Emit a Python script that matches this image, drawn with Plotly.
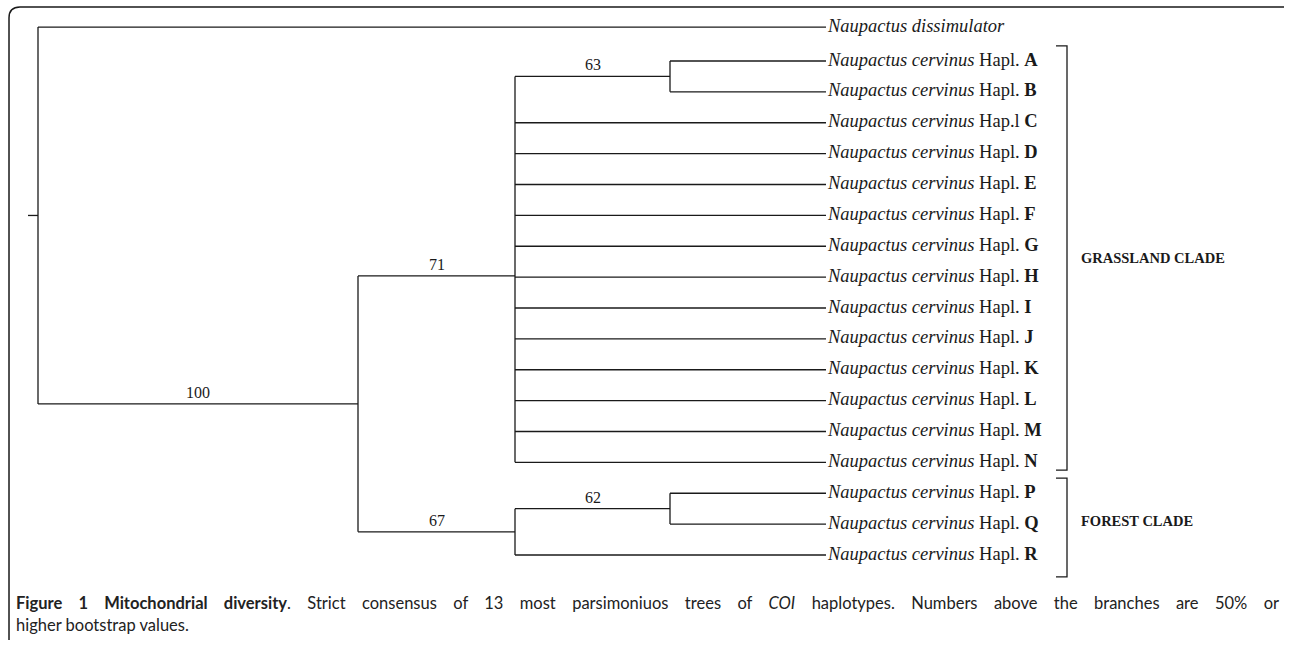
import plotly.graph_objects as go

# ── data ─────────────────────────────────────────────────────────────────────
tip_labels = [
    "<i>Naupactus dissimulator</i>",
    "<i>Naupactus cervinus</i> Hapl. <b>A</b>",
    "<i>Naupactus cervinus</i> Hapl. <b>B</b>",
    "<i>Naupactus cervinus</i> Hap.l <b>C</b>",
    "<i>Naupactus cervinus</i> Hapl. <b>D</b>",
    "<i>Naupactus cervinus</i> Hapl. <b>E</b>",
    "<i>Naupactus cervinus</i> Hapl. <b>F</b>",
    "<i>Naupactus cervinus</i> Hapl. <b>G</b>",
    "<i>Naupactus cervinus</i> Hapl. <b>H</b>",
    "<i>Naupactus cervinus</i> Hapl. <b>I</b>",
    "<i>Naupactus cervinus</i> Hapl. <b>J</b>",
    "<i>Naupactus cervinus</i> Hapl. <b>K</b>",
    "<i>Naupactus cervinus</i> Hapl. <b>L</b>",
    "<i>Naupactus cervinus</i> Hapl. <b>M</b>",
    "<i>Naupactus cervinus</i> Hapl. <b>N</b>",
    "<i>Naupactus cervinus</i> Hapl. <b>P</b>",
    "<i>Naupactus cervinus</i> Hapl. <b>Q</b>",
    "<i>Naupactus cervinus</i> Hapl. <b>R</b>",
]
tip_rows = [-1.1, 0, 1, 2, 3, 4, 5, 6, 7, 8, 9, 10, 11, 12, 13, 14, 15, 16]
tip_depth = 788

# internal nodes: depth (cladogram x) and children (tip index or node name)
node_depth = {"root": 0, "n100": 320, "n71": 477, "n63": 632, "n67": 477, "n62": 632}
node_children = {
    "root": [0, "n100"],
    "n100": ["n71", "n67"],
    "n71": ["n63"] + list(range(3, 15)),
    "n63": [1, 2],
    "n67": ["n62", 17],
    "n62": [15, 16],
}
bootstrap = {"n100": "100", "n71": "71", "n63": "63", "n67": "67", "n62": "62"}

clade_names = ["GRASSLAND CLADE", "FOREST CLADE"]
clade_first = [1, 15]
clade_last = [14, 17]

caption_1 = ("<b>Figure 1 Mitochondrial diversity</b>. Strict consensus of 13 most parsimoniuos "
             "trees of <i>COI</i> haplotypes. Numbers above the branches are 50% or")
caption_2 = "higher bootstrap values."

# ── layout constants ─────────────────────────────────────────────────────────
W, H = 1290, 647
INK = "#1a1a1a"
SERIF = "Liberation Serif, Times New Roman, serif"
SANS = "Lato, Open Sans, sans-serif"
X0 = -38                      # root sits 38 px from the left edge
ROW_PX, ROW0_PX = 30.875, 61  # row spacing / pixel of row 0
CAP_LEFT, CAP_RIGHT = 14, 1277


# ── geometry from the tree ───────────────────────────────────────────────────
node_y = {}


def y_of(c):
    if isinstance(c, int):
        return tip_rows[c]
    if c not in node_y:
        ys = [y_of(k) for k in node_children[c]]
        node_y[c] = sum(ys) / len(ys)
    return node_y[c]


xs, ys = [], []
labels = []


def walk(name, parent_depth):
    d = node_depth[name]
    y = y_of(name)
    xs.extend([parent_depth, d, None])
    ys.extend([y, y, None])
    kids = node_children[name]
    kys = [y_of(k) for k in kids]
    xs.extend([d, d, None])
    ys.extend([min(kys + [y]), max(kys + [y]), None])
    if name in bootstrap:
        labels.append(((parent_depth + d) / 2, y, bootstrap[name]))
    for k in kids:
        if isinstance(k, int):
            xs.extend([d, tip_depth, None])
            ys.extend([tip_rows[k], tip_rows[k], None])
        else:
            walk(k, d)


walk("root", -10)

fig = go.Figure()
fig.add_trace(go.Scatter(
    x=xs, y=ys, mode="lines",
    line=dict(color=INK, width=1.3),
    hoverinfo="skip", showlegend=False,
))

# tip labels
fig.add_trace(go.Scatter(
    x=[tip_depth + 2] * len(tip_labels), y=tip_rows,
    mode="text", text=tip_labels, textposition="middle right",
    textfont=dict(family=SERIF, size=18.5, color=INK),
    hoverinfo="skip", showlegend=False,
))

# bootstrap values
for bx, by, txt in labels:
    fig.add_annotation(
        x=bx, y=by, text=txt, showarrow=False,
        yanchor="bottom", yshift=1,
        font=dict(family=SERIF, size=16, color=INK),
    )

# clade brackets
bx_, tick = 1029, 1018
for name, a, b in zip(clade_names, clade_first, clade_last):
    top = tip_rows[a] - 0.49
    bot = tip_rows[b] + 0.25 + (0.46 if name.startswith("FOREST") else 0)
    fig.add_trace(go.Scatter(
        x=[tick, bx_, bx_, tick], y=[top, top, bot, bot], mode="lines",
        line=dict(color=INK, width=1.3), hoverinfo="skip", showlegend=False,
    ))
    fig.add_annotation(
        x=bx_ + 12, y=(top + bot) / 2 - (0.2 if name.startswith("FOREST") else 0),
        text=f"<b>{name}</b>", showarrow=False, xanchor="left",
        font=dict(family=SERIF, size=14.5, color=INK),
    )

# caption (first line gets justified in the page, like the journal layout)
fig.add_annotation(
    x=CAP_LEFT / W, y=1 - 603 / H, xref="paper", yref="paper", text=caption_1,
    showarrow=False, xanchor="left", yanchor="middle", align="left",
    font=dict(family=SANS, size=16.5, color="#222"),
)
fig.add_annotation(
    x=CAP_LEFT / W, y=1 - 625 / H, xref="paper", yref="paper", text=caption_2,
    showarrow=False, xanchor="left", yanchor="middle", align="left",
    font=dict(family=SANS, size=16.5, color="#222"),
)

# rounded frame (top + left edges)
def px(x, y):
    return f"{x / W:.5f},{1 - y / H:.5f}"


fig.add_shape(
    type="path", xref="paper", yref="paper",
    path=f"M {px(1284, 7)} L {px(20, 7)} Q {px(9, 7)} {px(9, 18)} L {px(9, 640)}",
    line=dict(color=INK, width=1.5),
)

fig.update_layout(
    width=W, height=H,
    margin=dict(l=0, r=0, t=0, b=0),
    paper_bgcolor="white", plot_bgcolor="white",
    xaxis=dict(range=[X0, X0 + W], visible=False, fixedrange=True),
    yaxis=dict(range=[(H - ROW0_PX) / ROW_PX, -ROW0_PX / ROW_PX],
               visible=False, fixedrange=True),
)

justify_js = """
document.body.style.margin = '0';
function justifyCaption() {
  var gd = document.getElementById('{plot_id}');
  if (!gd) return;
  gd.querySelectorAll('.annotation-text').forEach(function (t) {
    if (t.textContent.indexOf('Strict consensus') < 0) return;
    t.style.wordSpacing = '0px';
    var b0 = t.getBBox();
    var n = (t.textContent.match(/ /g) || []).length;
    var extra = (%d - %d - b0.width) / n;
    t.style.wordSpacing = extra + 'px';
    var b1 = t.getBBox();
    var x = parseFloat(t.getAttribute('x') || '0');
    t.setAttribute('x', x + (b0.x - b1.x));
  });
}
justifyCaption();
setTimeout(justifyCaption, 50);
setTimeout(justifyCaption, 300);
""" % (CAP_RIGHT, CAP_LEFT)

fig.write_html("out.html", post_script=justify_js,
               config={"displayModeBar": False, "staticPlot": True})
